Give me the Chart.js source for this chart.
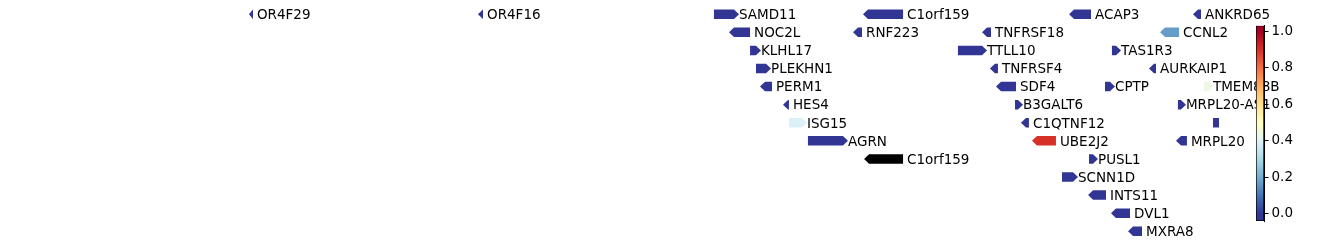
<!DOCTYPE html>
<html>
<head>
<meta charset="utf-8">
<script src="https://cdn.jsdelivr.net/npm/chart.js@4/dist/chart.umd.min.js"></script>
<style>
  html, body { margin: 0; padding: 0; background: #fff; }
  #wrap { position: relative; width: 1338px; height: 246px; }
  .box { position: absolute; top: 0; height: 246px; }
</style>
</head>
<body>
<div id="wrap">
  <div class="box" style="left:0; width:1338px;"><canvas id="track"></canvas></div>
  <div class="box" style="left:1240px; width:98px;"><canvas id="cbar"></canvas></div>
</div>
<script>
// gene track data (positions in kb)
const genes   = ['OR4F29', 'OR4F16', 'SAMD11', 'C1orf159', 'ACAP3', 'ANKRD65',
                 'NOC2L', 'RNF223', 'TNFRSF18', 'CCNL2',
                 'KLHL17', 'TTLL10', 'TAS1R3',
                 'PLEKHN1', 'TNFRSF4', 'AURKAIP1',
                 'PERM1', 'SDF4', 'CPTP', 'TMEM88B',
                 'HES4', 'B3GALT6', 'MRPL20-AS1',
                 'ISG15', 'C1QTNF12', '',
                 'AGRN', 'UBE2J2', 'MRPL20',
                 'C1orf159', 'PUSL1',
                 'SCNN1D', 'INTS11', 'DVL1', 'MXRA8'];
const starts  = [455.3, 690.1, 932.1, 1084.9, 1296.2, 1423.3,
                 947.5, 1074.7, 1207.0, 1389.5,
                 969.1, 1182.3, 1340.2,
                 975.2, 1215.1, 1378.2,
                 979.3, 1221.3, 1333.1, 1434.6,
                 1002.9, 1240.8, 1407.9,
                 1009.0, 1246.9, 1443.8,
                 1028.5, 1258.2, 1405.9,
                 1086.0, 1316.7,
                 1289.0, 1315.7, 1339.2, 1356.7];
const ends    = [459.4, 695.3, 957.8, 1126.0, 1318.7, 1431.5,
                 969.1, 1083.9, 1216.2, 1409.0,
                 980.3, 1212.1, 1349.5,
                 990.6, 1223.3, 1385.4,
                 991.6, 1241.8, 1343.3, 1443.8,
                 1009.0, 1249.0, 1416.1,
                 1027.5, 1255.1, 1450.0,
                 1069.5, 1282.8, 1417.1,
                 1126.0, 1325.9,
                 1305.4, 1334.1, 1358.7, 1371.0];
const strands = [-1, -1, 1, -1, -1, -1,
                 -1, -1, -1, -1,
                 1, 1, 1,
                 1, -1, -1,
                 -1, -1, 1, 1,
                 -1, 1, 1,
                 1, -1, 0,
                 1, -1, -1,
                 -1, 1,
                 1, -1, -1, -1];
const rows    = [0, 0, 0, 0, 0, 0,
                 1, 1, 1, 1,
                 2, 2, 2,
                 3, 3, 3,
                 4, 4, 4, 4,
                 5, 5, 5,
                 6, 6, 6,
                 7, 7, 7,
                 8, 8,
                 9, 10, 11, 12];
const scores  = [0, 0, 0, 0, 0, 0,
                 0, 0, 0, 0.17,
                 0, 0, 0,
                 0, 0, 0,
                 0, 0, 0, 0.44,
                 0, 0, 0,
                 0.39, 0, 0,
                 0, 0.9, 0,
                 null, 0,
                 0, 0, 0, 0];
const cbarTicks = [0.0, 0.2, 0.4, 0.6, 0.8, 1.0];
const vmin = -0.04, vmax = 1.03;

// RdYlBu_r
const cmapStops = ['#313695', '#4575b4', '#74add1', '#abd9e9', '#e0f3f8', '#ffffbf',
                   '#fee090', '#fdae61', '#f46d43', '#d73027', '#a50026'];

function hex2rgb(h) {
  return [parseInt(h.slice(1, 3), 16), parseInt(h.slice(3, 5), 16), parseInt(h.slice(5, 7), 16)];
}
function cmap(t) {
  t = Math.max(0, Math.min(1, t));
  const n = cmapStops.length - 1;
  const i = Math.min(n - 1, Math.floor(t * n));
  const f = t * n - i;
  const a = hex2rgb(cmapStops[i]), b = hex2rgb(cmapStops[i + 1]);
  const c = a.map((v, k) => Math.round(v + (b[k] - v) * f));
  return `rgb(${c[0]},${c[1]},${c[2]})`;
}

Chart.defaults.font.family = '"DejaVu Sans", sans-serif';
Chart.defaults.color = '#000';

const FONT = '13.5px "DejaVu Sans"';
const ARROW_H = 9.5;
const HEAD = 5;

const geneTrack = {
  id: 'geneTrack',
  afterDatasetsDraw(chart) {
    const { ctx, scales: { x, y } } = chart;
    ctx.save();
    ctx.font = FONT;
    ctx.textBaseline = 'alphabetic';
    genes.forEach((name, i) => {
      const x0 = x.getPixelForValue(starts[i]);
      const x1 = x.getPixelForValue(ends[i]);
      const yc = y.getPixelForValue(rows[i]);
      const h = ARROW_H / 2;
      const head = Math.min(HEAD, x1 - x0);
      ctx.fillStyle = scores[i] == null ? '#000' : cmap(scores[i]);
      ctx.beginPath();
      if (strands[i] > 0) {
        ctx.moveTo(x0, yc - h);
        ctx.lineTo(x1 - head, yc - h);
        ctx.lineTo(x1, yc);
        ctx.lineTo(x1 - head, yc + h);
        ctx.lineTo(x0, yc + h);
      } else if (strands[i] < 0) {
        ctx.moveTo(x1, yc - h);
        ctx.lineTo(x0 + head, yc - h);
        ctx.lineTo(x0, yc);
        ctx.lineTo(x0 + head, yc + h);
        ctx.lineTo(x1, yc + h);
      } else {
        ctx.rect(x0, yc - h, x1 - x0, 2 * h);
      }
      ctx.closePath();
      ctx.fill();
      if (name) {
        ctx.fillStyle = '#000';
        ctx.fillText(name, x1 + (strands[i] > 0 ? 0 : 4), yc + 4.8);
      }
    });
    ctx.restore();
  }
};

new Chart(document.getElementById('track'), {
  type: 'scatter',
  data: {
    datasets: [{
      data: genes.map((g, i) => ({ x: (starts[i] + ends[i]) / 2, y: rows[i] })),
      pointRadius: 0
    }]
  },
  options: {
    animation: false,
    responsive: true,
    maintainAspectRatio: false,
    layout: { padding: 0 },
    plugins: { legend: { display: false }, tooltip: { enabled: false } },
    scales: {
      x: { type: 'linear', min: 200, max: 1572, display: false },
      y: { type: 'linear', min: -0.785, max: 12.814, reverse: true, display: false }
    }
  },
  plugins: [geneTrack]
});

// colorbar
new Chart(document.getElementById('cbar'), {
  type: 'bar',
  data: {
    labels: [''],
    datasets: [{
      data: [[vmin, vmax]],
      backgroundColor: (c) => {
        const a = c.chart.chartArea;
        if (!a) return cmapStops[0];
        const g = c.chart.ctx.createLinearGradient(0, a.bottom, 0, a.top);
        for (let k = 0; k <= 50; k++) {
          const v = vmin + (vmax - vmin) * k / 50;
          g.addColorStop(k / 50, cmap(v));
        }
        return g;
      },
      borderColor: '#000',
      borderWidth: 1,
      borderSkipped: false,
      barPercentage: 1,
      categoryPercentage: 1
    }]
  },
  options: {
    animation: false,
    responsive: true,
    maintainAspectRatio: false,
    layout: { padding: { left: 16, right: 34, top: 25.7, bottom: 25 } },
    plugins: { legend: { display: false }, tooltip: { enabled: false } },
    scales: {
      x: { display: false },
      y: {
        position: 'right',
        min: vmin,
        max: vmax,
        afterBuildTicks: (axis) => { axis.ticks = cbarTicks.map(v => ({ value: v })); },
        afterFit: (s) => { s.width = 40; },
        ticks: {
          color: '#000',
          padding: 3,
          font: { size: 13.5 },
          callback: (v) => Number(v).toFixed(1)
        },
        grid: { drawOnChartArea: false, tickLength: 4.5, color: '#000', tickColor: '#000', tickWidth: 1 },
        border: { display: true, color: '#000', width: 1 }
      }
    }
  }
});
</script>
</body>
</html>
